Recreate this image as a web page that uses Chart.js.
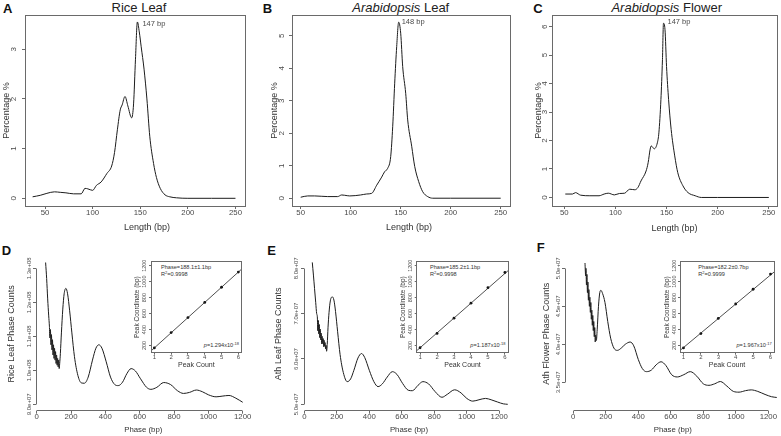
<!DOCTYPE html>
<html><head><meta charset="utf-8">
<script src="https://cdn.jsdelivr.net/npm/chart.js@4.4.1/dist/chart.umd.min.js"></script>
<style>
html,body{margin:0;padding:0;background:#fff;}
#wrap{position:relative;width:781px;height:436px;overflow:hidden;font-family:"Liberation Sans",Arial,Helvetica,sans-serif;}
#wrap canvas{position:absolute;left:0;top:0;}
.t{position:absolute;white-space:nowrap;line-height:1;}
.lt{font-weight:bold;font-size:13px;color:#111;}
.tt{font-size:13px;color:#222;transform:translateX(-50%);}
.it{font-size:5.6px;color:#333;}
.rt{transform:translateX(-100%);}
.sp{font-size:4px;position:relative;top:-2px;}
</style></head><body>
<div id="wrap">
<div class="t lt" style="left:3px;top:1.7px">A</div>
<div class="t lt" style="left:262.7px;top:1.7px">B</div>
<div class="t lt" style="left:533.3px;top:2px">C</div>
<div class="t lt" style="left:1.7px;top:244px">D</div>
<div class="t lt" style="left:267.3px;top:244px">E</div>
<div class="t lt" style="left:536.7px;top:240.7px">F</div>
<div class="t tt" style="left:139px;top:1px">Rice Leaf</div>
<div class="t tt" style="left:400.8px;top:1px"><i>Arabidopsis</i> Leaf</div>
<div class="t tt" style="left:666.7px;top:1px"><i>Arabidopsis</i> Flower</div>
<div class="t it" style="left:161px;top:265.3px">Phase=188.1±1.1bp</div>
<div class="t it" style="left:161px;top:272px">R<span class="sp">2</span>=0.9998</div>
<div class="t it rt" style="left:239px;top:343px"><i>p</i>=1.294x10<span class="sp">-18</span></div>
<div class="t it" style="left:430px;top:265.3px">Phase=185.2±1.1bp</div>
<div class="t it" style="left:430px;top:272px">R<span class="sp">2</span>=0.9998</div>
<div class="t it rt" style="left:505.5px;top:343px"><i>p</i>=1.187x10<span class="sp">-18</span></div>
<div class="t it" style="left:698.3px;top:265.3px">Phase=182.2±0.7bp</div>
<div class="t it" style="left:698.3px;top:272px">R<span class="sp">2</span>=0.9999</div>
<div class="t it rt" style="left:771.7px;top:343px"><i>p</i>=1.967x10<span class="sp">-17</span></div>
</div>
<script>
// ---------- DATA ----------
// A: Rice Leaf fragment length distribution
const aLength = [37,45,52,60,66,72,80,88,92,95,100,104,109,115,120,123,126,129,131,134,137,141,143,145,147,149,151,154,157,160,164,167,171,176,181,188,200,225,250];
const aPercent = [0.03,0.06,0.10,0.13,0.12,0.11,0.09,0.09,0.20,0.19,0.16,0.26,0.33,0.50,0.65,0.92,1.38,1.78,1.88,2.05,1.86,1.62,1.90,2.80,3.55,3.35,3.05,2.60,2.00,1.25,0.70,0.42,0.20,0.07,0.03,0.01,0,0,0];
// B: Arabidopsis Leaf
const bLength = [50,57,64,77,87,91,94,99,110,116,121,126,131,134,137,140,142,144,146,148,150,152,155,157,161,164,168,172,177,182,200,250];
const bPercent = [0.03,0.07,0.07,0.05,0.05,0.10,0.09,0.07,0.10,0.13,0.15,0.40,0.65,0.82,0.92,1.28,2.20,3.54,4.67,5.42,5.08,4.05,3.23,2.41,1.60,0.98,0.51,0.20,0.05,0.00,0,0];
// C: Arabidopsis Flower
const cLength = [51,58,61,66,75,84,89,93,99,104,109,114,119,122,125,130,132,134,135,138,141,142.5,144.5,146,147,148.5,150,152,154.5,158,161,166,171,178,184,200,250];
const cPercent = [0.12,0.12,0.17,0.08,0.06,0.06,0.12,0.15,0.09,0.14,0.15,0.29,0.27,0.35,0.58,0.93,1.22,1.70,1.81,1.71,1.92,2.27,3.44,4.84,6.12,5.89,4.60,3.44,2.39,1.46,0.87,0.41,0.17,0.06,0,0,0];
// D: Rice Leaf phase counts
const dPhase = [52,58,64,70,74,77,80,83,86,89,92,95,98,101,104,107,110,113,116,119,122,125,128,131,134,138,144,152,160,170,180,192,205,220,240,260,278,300,325,345,362,380,405,430,455,475,500,525,550,575,605,640,665,700,740,780,820,855,890,930,965,1000,1045,1080,1120,1160,1200];
const dCounts = [1.317e8,1.27e8,1.21e8,1.16e8,1.13e8,1.095e8,1.12e8,1.075e8,1.105e8,1.06e8,1.09e8,1.045e8,1.075e8,1.035e8,1.065e8,1.03e8,1.055e8,1.02e8,1.045e8,1.015e8,1.035e8,1.01e8,1.03e8,1.005e8,1.02e8,1.05e8,1.11e8,1.18e8,1.225e8,1.241e8,1.225e8,1.175e8,1.11e8,1.04e8,0.985e8,0.963e8,0.962e8,0.98e8,1.03e8,1.065e8,1.075e8,1.065e8,1.025e8,0.98e8,0.958e8,0.955e8,0.965e8,0.99e8,1.005e8,0.998e8,0.975e8,0.95e8,0.944e8,0.95e8,0.964e8,0.958e8,0.94e8,0.932e8,0.935e8,0.942e8,0.937e8,0.928e8,0.922e8,0.924e8,0.926e8,0.918e8,0.906e8];
// E: Ath Leaf phase counts
const ePhase = [49,56,63,70,76,80,83,86,89,92,95,98,101,104,107,110,113,116,119,122,125,128,131,134,137,141,146,152,160,172,182,192,205,220,240,264,285,305,330,352,372,400,428,454,480,510,542,570,605,640,665,700,730,765,805,847,880,925,965,1000,1037,1075,1115,1150,1190,1225,1252];
const eCounts = [8.13e7,7.85e7,7.55e7,7.25e7,7.0e7,6.93e7,6.62e7,6.85e7,6.55e7,6.76e7,6.47e7,6.66e7,6.42e7,6.57e7,6.33e7,6.5e7,6.34e7,6.45e7,6.27e7,6.41e7,6.28e7,6.36e7,6.22e7,6.3e7,6.17e7,6.32e7,6.7e7,7.02e7,7.28e7,7.37e7,7.3e7,7.05e7,6.6e7,6.1e7,5.7e7,5.5e7,5.56e7,5.75e7,6.02e7,6.12e7,6.03e7,5.75e7,5.5e7,5.39e7,5.45e7,5.6e7,5.72e7,5.66e7,5.46e7,5.31e7,5.3e7,5.42e7,5.5e7,5.45e7,5.28e7,5.155e7,5.22e7,5.32e7,5.25e7,5.13e7,5.07e7,5.1e7,5.13e7,5.1e7,5.05e7,5.01e7,5.0e7];
// F: Ath Flower phase counts
const fPhase = [72,76,78,81,84,87,90,93,96,99,102,105,108,111,114,117,120,123,126,129,132,135,138,142,147,155,163,170,180,195,212,230,250,271,295,320,350,372,400,425,450,480,510,540,570,605,640,680,720,760,800,835,870,905,945,985,1020,1060,1095,1135,1180,1220,1252];
const fCounts = [5.07e7,4.9e7,5.0e7,4.78e7,4.92e7,4.68e7,4.82e7,4.58e7,4.72e7,4.5e7,4.62e7,4.42e7,4.55e7,4.33e7,4.45e7,4.25e7,4.38e7,4.18e7,4.3e7,4.1e7,4.22e7,4.03e7,4.12e7,4.05e7,4.19e7,4.5e7,4.68e7,4.71e7,4.67e7,4.55e7,4.3e7,4.08e7,3.95e7,3.92e7,3.95e7,4.0e7,4.03e7,3.98e7,3.8e7,3.68e7,3.64e7,3.66e7,3.73e7,3.77e7,3.72e7,3.6e7,3.57e7,3.6e7,3.64e7,3.58e7,3.48e7,3.46e7,3.48e7,3.51e7,3.45e7,3.38e7,3.37e7,3.39e7,3.4e7,3.38e7,3.34e7,3.31e7,3.3e7];
// Insets: peak count vs peak coordinate
const peakCount = [1,2,3,4,5,6];
const dPeakCoord = [170,362,550,740,930,1120];
const ePeakCoord = [172,352,542,730,925,1115];
const fPeakCoord = [170,350,540,720,905,1095];
const fitX = [0.8,6.2];
const dFitY = [132,1158];
const eFitY = [135,1140];
const fFitY = [138,1120];
// Tick values / labels
const lenTicks = [50,100,150,200,250];
const lenTickLabels = ['50','100','150','200','250'];
const aPctTicks = [0,1,2,3];
const bPctTicks = [0,1,2,3,4,5];
const cPctTicks = [0,1,2,3,4,5,6];
const phaseTicks = [0,200,400,600,800,1000,1200];
const phaseTickLabels = ['0','200','400','600','800','1000','1200'];
const dCountTicks = [9e7,1e8,1.1e8,1.2e8,1.3e8];
const dCountLabels = ['9.0e+07','1.0e+08','1.1e+08','1.2e+08','1.3e+08'];
const eCountTicks = [5e7,6e7,7e7,8e7];
const eCountLabels = ['5.0e+07','6.0e+07','7.0e+07','8.0e+07'];
const fCountTicks = [3.5e7,4e7,4.5e7,5e7];
const fCountLabels = ['3.5e+07','4.0e+07','4.5e+07','5.0e+07'];
const insetXTicks = [1,2,3,4,5,6];
const insetXLabels = ['1','2','3','4','5','6'];
const insetYTicks = [200,400,600,800,1000,1200];
const insetYLabels = ['200','400','600','800','1000','1200'];
const peakLabels = ['147 bp','148 bp','147 bp'];
const peakAt = [[147,3.55],[148,5.42],[147,6.12]];

// ---------- RENDERING ----------
const W = 781, H = 436;
const FAM = '"Liberation Sans", Arial, Helvetica, sans-serif';
const AX = '#6a6a6a', TX = '#4a4a4a', TT = '#333', LINE = '#1c1c1c';
Chart.defaults.font.family = FAM;
const wrap = document.getElementById('wrap');
const mctx = document.createElement('canvas').getContext('2d');
const pts = (xs, ys) => xs.map((x, i) => ({x: x, y: ys[i]}));
const alignPx = v => Math.round(v - 0.5) + 0.5;

const boxPlugin = {id: 'box', afterDraw(ch, a, o) {
  if (!o.on) return;
  const c = ch.ctx, r = ch.chartArea;
  c.save(); c.strokeStyle = AX; c.lineWidth = 1;
  const l = alignPx(r.left), t = alignPx(r.top), rr = alignPx(r.right), b = alignPx(r.bottom);
  c.strokeRect(l, t, rr - l, b - t); c.restore();
}};
const rAxisPlugin = {id: 'raxis', afterDraw(ch, a, o) {
  if (!o.on) return;
  const c = ch.ctx, r = ch.chartArea, x = ch.scales.x, y = ch.scales.y;
  const xt = x.ticks, yt = y.ticks;
  c.save(); c.strokeStyle = AX; c.lineWidth = 1; c.beginPath();
  const by = alignPx(r.bottom), lx = alignPx(r.left);
  c.moveTo(alignPx(x.getPixelForValue(xt[0].value)), by);
  c.lineTo(alignPx(x.getPixelForValue(xt[xt.length - 1].value)), by);
  c.moveTo(lx, alignPx(y.getPixelForValue(yt[0].value)));
  c.lineTo(lx, alignPx(y.getPixelForValue(yt[yt.length - 1].value)));
  c.stroke(); c.restore();
}};
const peakPlugin = {id: 'peak', afterDatasetsDraw(ch, a, o) {
  if (!o.text) return;
  const c = ch.ctx, x = ch.scales.x, y = ch.scales.y;
  c.save(); c.font = o.size + 'px ' + FAM; c.fillStyle = TX;
  c.textAlign = 'left'; c.textBaseline = 'middle';
  c.fillText(o.text, x.getPixelForValue(o.at[0]) + o.dx, y.getPixelForValue(o.at[1]) + o.dy);
  c.restore();
}};
// x-axis title drawn under the plot with a horizontal offset (as in the source figure)
const xlabPlugin = {id: 'xlab', afterDraw(ch, a, o) {
  if (!o.text) return;
  const c = ch.ctx, r = ch.chartArea;
  c.save(); c.font = o.size + 'px ' + FAM; c.fillStyle = TT;
  c.textAlign = 'center'; c.textBaseline = 'middle';
  c.fillText(o.text, (r.left + r.right) / 2 + o.dx, o.cy);
  c.restore();
}};

function build(c) {
  const cv = document.createElement('canvas');
  cv.width = W; cv.height = H; wrap.appendChild(cv);
  const [L, T, R, B] = c.area;
  const tl = c.tl;
  const padLeft = c.yTitleCX - c.yTitleSize / 2;
  const xH = c.xTitleCY + c.xTitleSize / 2 - B;
  const padBottom = H - B - xH;
  mctx.font = c.yTickSize + 'px ' + FAM;
  const widest = Math.max(...c.yLabels.map(s => mctx.measureText(s).width));
  const yPad = L - tl - c.yLabelCX - widest / 2;
  const xPad = c.xLabelCY - B - tl - c.xTickSize / 2;
  const shifted = typeof c.xTitleDX === 'number';
  return new Chart(cv, {
    type: 'line',
    data: {datasets: c.datasets},
    options: {
      responsive: false, animation: false, devicePixelRatio: 1, events: [],
      layout: {autoPadding: false, padding: {left: padLeft, top: T, right: W - R, bottom: padBottom}},
      plugins: {legend: {display: false}, tooltip: {enabled: false}, title: {display: false},
        box: {on: !!c.box}, raxis: {on: !c.box}, peak: c.peak || {text: ''},
        xlab: shifted ? {text: c.xTitle, dx: c.xTitleDX, cy: c.xTitleCY, size: c.xTitleSize} : {text: ''}},
      scales: {
        x: {type: 'linear', min: c.xMin, max: c.xMax,
          afterBuildTicks: s => { s.ticks = c.xTicks.map(v => ({value: v})); },
          afterFit: s => { s.height = xH; },
          ticks: {autoSkip: false, maxRotation: 0, minRotation: 0, padding: xPad, color: TX,
            font: {size: c.xTickSize, lineHeight: 1}, callback: (v, i) => c.xLabels[i]},
          grid: {display: true, drawOnChartArea: false, drawTicks: true, tickLength: tl, color: AX, lineWidth: 1},
          border: {display: true, width: 1, color: c.box ? AX : 'rgba(0,0,0,0)'},
          title: {display: !shifted, text: c.xTitle, color: TT, padding: 0, font: {size: c.xTitleSize, lineHeight: 1}}},
        y: {type: 'linear', min: c.yMin, max: c.yMax,
          afterBuildTicks: s => { s.ticks = c.yTicks.map(v => ({value: v})); },
          afterFit: s => { s.width = L - padLeft; },
          ticks: {autoSkip: false, minRotation: 90, maxRotation: 90, crossAlign: 'center', padding: yPad, color: TX,
            font: {size: c.yTickSize, lineHeight: 1}, callback: (v, i) => c.yLabels[i]},
          grid: {display: true, drawOnChartArea: false, drawTicks: true, tickLength: tl, color: AX, lineWidth: 1},
          border: {display: true, width: 1, color: c.box ? AX : 'rgba(0,0,0,0)'},
          title: {display: true, text: c.yTitle, color: TT, padding: 0, font: {size: c.yTitleSize, lineHeight: 1}}}
      }
    },
    plugins: [boxPlugin, rAxisPlugin, peakPlugin, xlabPlugin]
  });
}

const curve = (xs, ys) => ({data: pts(xs, ys), borderColor: LINE, borderWidth: 1, pointRadius: 0,
  cubicInterpolationMode: 'monotone', fill: false});
const dots = (ys) => ({data: pts(peakCount, ys), showLine: false, pointRadius: 1.4, pointBorderWidth: 0,
  pointBackgroundColor: '#111', borderColor: '#111'});
const fit = (ys) => ({data: pts(fitX, ys), borderColor: '#222', borderWidth: 0.8, pointRadius: 0, tension: 0});

// Top row
build({area: [25, 15, 245, 206], xMin: 29, xMax: 260, yMin: -0.155, yMax: 3.69,
  xTicks: lenTicks, xLabels: lenTickLabels, yTicks: aPctTicks, yLabels: aPctTicks.map(String), tl: 3,
  yTickSize: 8, yLabelCX: 13.7, yTitle: 'Percentage %', yTitleSize: 9, yTitleCX: 7,
  xTickSize: 7.8, xLabelCY: 213.3, xTitle: 'Length (bp)', xTitleSize: 9, xTitleCY: 227.7, xTitleDX: 12, box: true,
  peak: {text: peakLabels[0], at: peakAt[0], dx: 5, dy: 2, size: 7.5},
  datasets: [curve(aLength, aPercent)]});
build({area: [292, 15, 510, 206], xMin: 41.3, xMax: 259.3, yMin: -0.24, yMax: 5.64,
  xTicks: lenTicks, xLabels: lenTickLabels, yTicks: bPctTicks, yLabels: bPctTicks.map(String), tl: 3,
  yTickSize: 8, yLabelCX: 281.7, yTitle: 'Percentage %', yTitleSize: 9, yTitleCX: 275,
  xTickSize: 7.8, xLabelCY: 213.3, xTitle: 'Length (bp)', xTitleSize: 9, xTitleCY: 227.7, xTitleDX: 8, box: true,
  peak: {text: peakLabels[1], at: peakAt[1], dx: 3, dy: 0, size: 7.5},
  datasets: [curve(bLength, bPercent)]});
build({area: [552, 15, 777, 206], xMin: 38, xMax: 258, yMin: -0.30, yMax: 6.41,
  xTicks: lenTicks, xLabels: lenTickLabels, yTicks: cPctTicks, yLabels: cPctTicks.map(String), tl: 3,
  yTickSize: 8, yLabelCX: 545, yTitle: 'Percentage %', yTitleSize: 9, yTitleCX: 538.3,
  xTickSize: 7.8, xLabelCY: 213.3, xTitle: 'Length (bp)', xTitleSize: 9, xTitleCY: 228.3, xTitleDX: 10, box: true,
  peak: {text: peakLabels[2], at: peakAt[2], dx: 4, dy: -1, size: 7.5},
  datasets: [curve(cLength, cPercent)]});

// Bottom row
build({area: [36, 257, 250.6, 410.7], xMin: -4, xMax: 1246, yMin: 8.812e7, yMax: 1.3332e8,
  xTicks: phaseTicks, xLabels: phaseTickLabels, yTicks: dCountTicks, yLabels: dCountLabels, tl: 3,
  yTickSize: 6, yLabelCX: 29.3, yTitle: 'Rice Leaf Phase Counts', yTitleSize: 9, yTitleCX: 11.7,
  xTickSize: 7.8, xLabelCY: 416.7, xTitle: 'Phase (bp)', xTitleSize: 7.8, xTitleCY: 430,
  datasets: [curve(dPhase, dCounts)]});
build({area: [304, 257, 513.9, 410.7], xMin: -2, xMax: 1290, yMin: 4.859e7, yMax: 8.249e7,
  xTicks: phaseTicks, xLabels: phaseTickLabels, yTicks: eCountTicks, yLabels: eCountLabels, tl: 3,
  yTickSize: 6, yLabelCX: 296.7, yTitle: 'Ath Leaf Phase Counts', yTitleSize: 9, yTitleCX: 278.3,
  xTickSize: 7.8, xLabelCY: 416.7, xTitle: 'Phase (bp)', xTitleSize: 7.8, xTitleCY: 430,
  datasets: [curve(ePhase, eCounts)]});
build({area: [565, 257, 780.5, 410.7], xMin: -51, xMax: 1275, yMin: 3.126e7, yMax: 5.149e7,
  xTicks: phaseTicks, xLabels: phaseTickLabels, yTicks: fCountTicks, yLabels: fCountLabels, tl: 3,
  yTickSize: 6, yLabelCX: 558.3, yTitle: 'Ath Flower Phase Counts', yTitleSize: 9, yTitleCX: 546.7,
  xTickSize: 7.8, xLabelCY: 416.7, xTitle: 'Phase (bp)', xTitleSize: 7.8, xTitleCY: 430,
  datasets: [curve(fPhase, fCounts)]});

// Insets
const inset = (area, yLabelCX, yTitleCX, coords, fitY) => build({area: area, xMin: 0.8, xMax: 6.2, yMin: 110, yMax: 1250,
  xTicks: insetXTicks, xLabels: insetXLabels, yTicks: insetYTicks, yLabels: insetYLabels, tl: 2,
  yTickSize: 5.5, yLabelCX: yLabelCX, yTitle: 'Peak Coordinate (bp)', yTitleSize: 6.5, yTitleCX: yTitleCX,
  xTickSize: 6, xLabelCY: 357.5, xTitle: 'Peak Count', xTitleSize: 7, xTitleCY: 365, box: true,
  datasets: [fit(fitY), dots(coords)]});
inset([151, 261.7, 241.7, 352.7], 144.5, 137.5, dPeakCoord, dFitY);
inset([416.7, 261.7, 508.3, 352.7], 410.2, 403.2, ePeakCoord, eFitY);
inset([680, 261.7, 774, 352.7], 674, 667.5, fPeakCoord, fFitY);
</script>
</body></html>
